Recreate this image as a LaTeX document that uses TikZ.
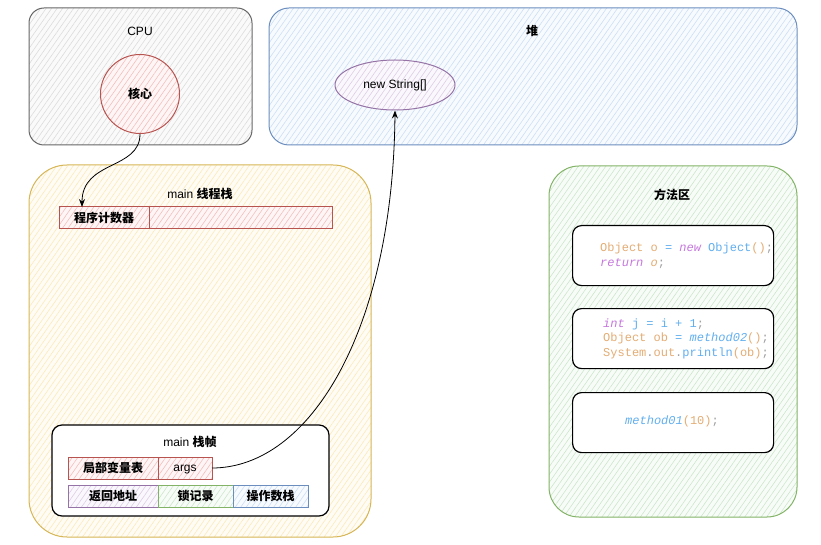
\documentclass[tikz,border=0pt]{standalone}
\usepackage{fontspec}
\setmainfont{Liberation Sans}
\setmonofont{Liberation Mono}
\newfontfamily\cjk{Noto Sans CJK SC}
\usetikzlibrary{positioning,shapes.geometric,patterns.meta,arrows.meta}

\definecolor{grayline}{HTML}{666666}
\definecolor{grayfill}{HTML}{D0D0D0}
\definecolor{redline}{HTML}{B85450}
\definecolor{redfill}{HTML}{F0A8A5}
\definecolor{blueline}{HTML}{6C8EBF}
\definecolor{bluefill}{HTML}{B9D3F5}
\definecolor{yellowline}{HTML}{D6B656}
\definecolor{yellowfill}{HTML}{FBE3A0}
\definecolor{greenline}{HTML}{82B366}
\definecolor{greenfill}{HTML}{BCDDB9}
\definecolor{purpleline}{HTML}{9673A6}
\definecolor{purplefill}{HTML}{D2BEDD}
\definecolor{codeor}{HTML}{E4AD74}
\definecolor{codepu}{HTML}{C678DD}
\definecolor{codebl}{HTML}{61AFEF}
\definecolor{codegr}{HTML}{A0A0A0}

\newcommand{\zh}[1]{{\cjk\bfseries #1}}
\newcommand{\cor}[1]{\textcolor{codeor}{#1}}
\newcommand{\cpu}[1]{\textcolor{codepu}{\itshape #1}}
\newcommand{\cbl}[1]{\textcolor{codebl}{#1}}
\newcommand{\cgr}[1]{\textcolor{codegr}{#1}}

\tikzset{
  hatch/.style 2 args={draw=#1, line width=1pt,
    preaction={fill=#2!10},
    pattern={Lines[angle=55,distance=4.5pt,line width=0.6pt]}, pattern color=#2!75},
  region/.style={rectangle, anchor=north west, inner sep=0pt, outer sep=0pt},
  cell/.style={rectangle, inner sep=0pt, outer sep=0pt, minimum height=22pt},
  codebox/.style={rectangle, anchor=north west, draw=black, line width=1.2pt,
    fill=white, rounded corners=9pt, minimum width=201pt, minimum height=60pt},
  conn/.style={-{Stealth[length=8pt,width=6pt]}, line width=0.8pt}
}

\begin{document}
\begin{tikzpicture}[x=1pt, y=-1pt, font=\fontsize{12pt}{14pt}\selectfont]
\useasboundingbox (0,0) rectangle (821,545);

% areas
\node[region, hatch={grayline}{grayfill}, rounded corners=15pt,
  minimum width=223pt, minimum height=137pt] (cpu) at (29,8) {};
\node[region, hatch={blueline}{bluefill}, rounded corners=20pt,
  minimum width=528pt, minimum height=137pt] (heap) at (269,8) {};
\node[region, hatch={yellowline}{yellowfill}, rounded corners=38pt,
  minimum width=342pt, minimum height=372pt] (thread) at (29,165) {};
\node[region, hatch={greenline}{greenfill}, rounded corners=30pt,
  minimum width=248pt, minimum height=351pt] (method) at (549,166) {};

\node (cpulabel) at (140,31) {CPU};
\node (heaplabel) at (532,31) {\zh{堆}};
\node (threadlabel) at (200,194) {main \zh{线程栈}};
\node (methodlabel) at (672,195) {\zh{方法区}};

% cpu and heap
\node[circle, hatch={redline}{redfill}, minimum size=79pt, inner sep=0pt] (core) at (140,94) {\zh{核心}};
\node[ellipse, hatch={purpleline}{purplefill}, minimum width=120pt, minimum height=50pt,
  inner sep=0pt] (array) at (395,85) {new String[]};

% thread stack
\node[cell, hatch={redline}{redfill}, minimum width=90pt, anchor=north west] (pc) at (59,207) {\zh{程序计数器}};
\node[cell, hatch={redline}{redfill}, minimum width=183pt, right=0pt of pc] (pcvalue) {};

\node[region, draw=black, line width=1.2pt, fill=white, rounded corners=10pt,
  minimum width=277pt, minimum height=91pt] (frame) at (52,425) {};
\node (framelabel) at (190,442) {main \zh{栈帧}};
\node[cell, hatch={redline}{redfill}, minimum width=90pt, anchor=north west] (locals) at (68,457) {\zh{局部变量表}};
\node[cell, hatch={redline}{redfill}, minimum width=54pt, right=0pt of locals] (args) {\raisebox{-3.5pt}[0pt][0pt]{args}};
\node[cell, hatch={purpleline}{purplefill}, minimum width=90pt, anchor=north west] (ret) at (68,485) {\zh{返回地址}};
\node[cell, hatch={greenline}{greenfill}, minimum width=75pt, right=0pt of ret] (lock) {\zh{锁记录}};
\node[cell, hatch={blueline}{bluefill}, minimum width=75pt, right=0pt of lock] (operand) {\zh{操作数栈}};

% method area
\node[codebox] (codeA) at (572,225) {};
\node[codebox] (codeB) at (572,308) {};
\node[codebox] (codeC) at (572,392) {};
\node[anchor=west, align=left, inner sep=0pt, font=\ttfamily\fontsize{12pt}{15pt}\selectfont] (textA) at (600,255.5)
  {\cor{Object o} \cbl{=} \cpu{new} \cbl{Object}\cor{()}\cgr{;}\\
   \cpu{return} \cor{\itshape o}\cgr{;}};
\node[anchor=west, align=left, inner sep=0pt, font=\ttfamily\fontsize{12pt}{14.5pt}\selectfont] (textB) at (603,338.5)
  {\cpu{int} \cbl{j = i + 1}\cgr{;}\\
   \cor{Object ob} \cbl{=} \cbl{\itshape method02}\cor{()}\cgr{;}\\
   \cor{System}\cgr{.}\cor{out}\cgr{.}\cbl{println}\cor{(ob)}\cgr{;}};
\node[inner sep=0pt, font=\ttfamily\fontsize{12pt}{14pt}\selectfont] (textC) at (672,421)
  {\cbl{\itshape method01}\cor{(10)}\cgr{;}};

% connectors
\draw[conn] (core.south) .. controls (140,170) and (82,160) .. ([xshift=-22pt]pc.north);
\draw[conn] (args.east) .. controls (310,468) and (393,330) .. (array.south);
\end{tikzpicture}
\end{document}
